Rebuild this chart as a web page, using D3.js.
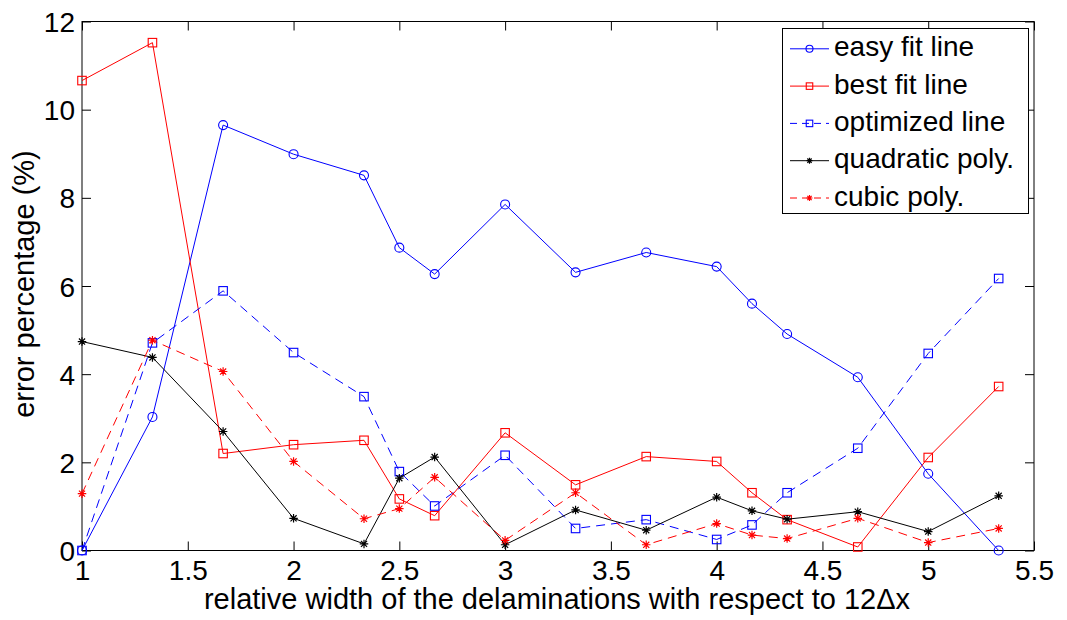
<!DOCTYPE html>
<html>
<head>
<meta charset="utf-8">
<script src="https://cdn.jsdelivr.net/npm/d3@7/dist/d3.min.js"></script>
<style>
  html, body { margin: 0; padding: 0; background: #fff; }
  svg { display: block; font-family: "Liberation Sans", Arial, sans-serif; }
</style>
</head>
<body>
<svg id="chart" width="1067" height="620"></svg>
<script>
// Relative delamination width (in units of 12Δx)
const widths = [1, 1.333, 1.667, 2, 2.333, 2.5, 2.667, 3, 3.333, 3.667, 4, 4.167, 4.333, 4.667, 5, 5.333];

// Error percentage for each fitting method
const easyFit    = [0, 3.03, 9.65, 8.99, 8.51, 6.87, 6.27, 7.85, 6.31, 6.76, 6.44, 5.60, 4.91, 3.93, 1.74, 0];
const bestFit    = [10.66, 11.52, 2.20, 2.40, 2.50, 1.17, 0.79, 2.67, 1.49, 2.13, 2.02, 1.31, 0.70, 0.08, 2.11, 3.72];
const optimized  = [0, 4.71, 5.89, 4.49, 3.49, 1.79, 1.01, 2.16, 0.50, 0.70, 0.25, 0.58, 1.31, 2.32, 4.47, 6.17];
const quadratic  = [4.74, 4.38, 2.70, 0.73, 0.15, 1.64, 2.12, 0.13, 0.92, 0.46, 1.21, 0.90, 0.71, 0.88, 0.43, 1.24];
const cubic      = [1.29, 4.77, 4.06, 2.02, 0.72, 0.95, 1.66, 0.23, 1.31, 0.13, 0.61, 0.35, 0.27, 0.73, 0.18, 0.50];

const seriesNames = ["easy fit line", "best fit line", "optimized line", "quadratic poly.", "cubic poly."];

const xTicks = [1, 1.5, 2, 2.5, 3, 3.5, 4, 4.5, 5, 5.5];
const yTicks = [0, 2, 4, 6, 8, 10, 12];

const xLabel = "relative width of the delaminations with respect to 12\u0394x";
const yLabel = "error percentage (%)";

// Styling for each series: colour, dash, marker
const styles = [
  { color: "#0000ff", dash: null,  marker: "circle" },
  { color: "#ff0000", dash: null,  marker: "square" },
  { color: "#0000ff", dash: "9,6", marker: "square" },
  { color: "#000000", dash: null,  marker: "star" },
  { color: "#ff0000", dash: "9,6", marker: "star" }
];

const series = [easyFit, bestFit, optimized, quadratic, cubic].map((vals, i) => ({
  name: seriesNames[i],
  style: styles[i],
  points: widths.map((w, j) => ({ x: w, y: vals[j] }))
}));

const svg = d3.select("#chart");
const plotLeft = 82, plotRight = 1034, plotTop = 21.5, plotBottom = 550.5;

const x = d3.scaleLinear().domain([1, 5.5]).range([plotLeft, plotRight]);
const y = d3.scaleLinear().domain([0, 12]).range([plotBottom, plotTop]);

const fontSize = 28;
const tickLen = 9;

// Axes: labels on bottom/left, inward ticks on all four sides
const axisBottom = d3.axisBottom(x).tickValues(xTicks).tickFormat(d3.format("")).tickSizeInner(-tickLen).tickSizeOuter(0).tickPadding(9);
const axisTop = d3.axisTop(x).tickValues(xTicks).tickFormat("").tickSizeInner(-tickLen).tickSizeOuter(0);
const axisLeft = d3.axisLeft(y).tickValues(yTicks).tickFormat(d3.format("")).tickSizeInner(-tickLen).tickSizeOuter(0).tickPadding(7);
const axisRight = d3.axisRight(y).tickValues(yTicks).tickFormat("").tickSizeInner(-tickLen).tickSizeOuter(0);

function styleAxis(g) {
  g.select(".domain").remove();
  g.selectAll(".tick line").attr("stroke", "#000").attr("stroke-width", 1);
  g.selectAll(".tick text").attr("fill", "#000").style("font-size", fontSize + "px")
    .style("font-family", "'Liberation Sans', Arial, sans-serif");
}

svg.append("g").attr("transform", `translate(0,${plotBottom})`).call(axisBottom).call(styleAxis)
  .selectAll(".tick text").attr("dy", "0.72em");
svg.append("g").attr("transform", `translate(0,${plotTop})`).call(axisTop).call(styleAxis);
svg.append("g").attr("transform", `translate(${plotLeft},0)`).call(axisLeft).call(styleAxis)
  .selectAll(".tick text").attr("dy", "0.36em");
svg.append("g").attr("transform", `translate(${plotRight},0)`).call(axisRight).call(styleAxis);

// Plot box
svg.append("rect")
  .attr("x", plotLeft).attr("y", plotTop)
  .attr("width", plotRight - plotLeft).attr("height", plotBottom - plotTop)
  .attr("fill", "none").attr("stroke", "#000").attr("stroke-width", 1);

// Axis titles
svg.append("text")
  .attr("x", (plotLeft + plotRight) / 2 - 1).attr("y", 609)
  .attr("text-anchor", "middle")
  .style("font-size", "29px").attr("fill", "#000")
  .text(xLabel);

svg.append("text")
  .attr("transform", `translate(33.5,${(plotTop + plotBottom) / 2 - 2}) rotate(-90)`)
  .attr("text-anchor", "middle")
  .style("font-size", "29px").attr("fill", "#000")
  .text(yLabel);

// Marker drawing helper
function drawMarker(g, type, cx, cy, color, size) {
  if (type === "circle") {
    g.append("circle").attr("cx", cx).attr("cy", cy).attr("r", size / 2)
      .attr("fill", "none").attr("stroke", color).attr("stroke-width", 1.1);
  } else if (type === "square") {
    g.append("rect").attr("x", cx - size / 2).attr("y", cy - size / 2)
      .attr("width", size).attr("height", size)
      .attr("fill", "none").attr("stroke", color).attr("stroke-width", 1.1);
  } else if (type === "star") {
    const h = size / 2, d = h * 0.72;
    const p = `M${cx - h},${cy}L${cx + h},${cy}M${cx},${cy - h}L${cx},${cy + h}` +
              `M${cx - d},${cy - d}L${cx + d},${cy + d}M${cx - d},${cy + d}L${cx + d},${cy - d}`;
    g.append("path").attr("d", p).attr("stroke", color).attr("stroke-width", 1.2).attr("fill", "none");
  }
}

const line = d3.line().x(d => x(d.x)).y(d => y(d.y));
const markerSize = { circle: 9, square: 8.5, star: 8.5 };

const plot = svg.append("g");
series.forEach(s => {
  const g = plot.append("g");
  g.append("path")
    .datum(s.points)
    .attr("d", line)
    .attr("fill", "none")
    .attr("stroke", s.style.color)
    .attr("stroke-width", 1)
    .attr("stroke-dasharray", s.style.dash);
  s.points.forEach(p => drawMarker(g, s.style.marker, x(p.x), y(p.y), s.style.color, markerSize[s.style.marker]));
});

// Legend
const legX = 782.5, legY = 28.5, legW = 246, legH = 185;
const legend = svg.append("g");
legend.append("rect")
  .attr("x", legX).attr("y", legY).attr("width", legW).attr("height", legH)
  .attr("fill", "#fff").attr("stroke", "#000").attr("stroke-width", 1);

const legMarker = { circle: 7, square: 6.5, star: 6 };
series.forEach((s, i) => {
  const cy = 48.8 + i * 37.3;
  const g = legend.append("g");
  g.append("line")
    .attr("x1", 790).attr("x2", 829).attr("y1", cy).attr("y2", cy)
    .attr("stroke", s.style.color).attr("stroke-width", 1)
    .attr("stroke-dasharray", s.style.dash ? "7,5" : null);
  drawMarker(g, s.style.marker, 809.5, cy, s.style.color, legMarker[s.style.marker]);
  g.append("text")
    .attr("x", 834).attr("y", cy + 7.5)
    .style("font-size", "28px").attr("fill", "#000")
    .text(s.name);
});
</script>
</body>
</html>
